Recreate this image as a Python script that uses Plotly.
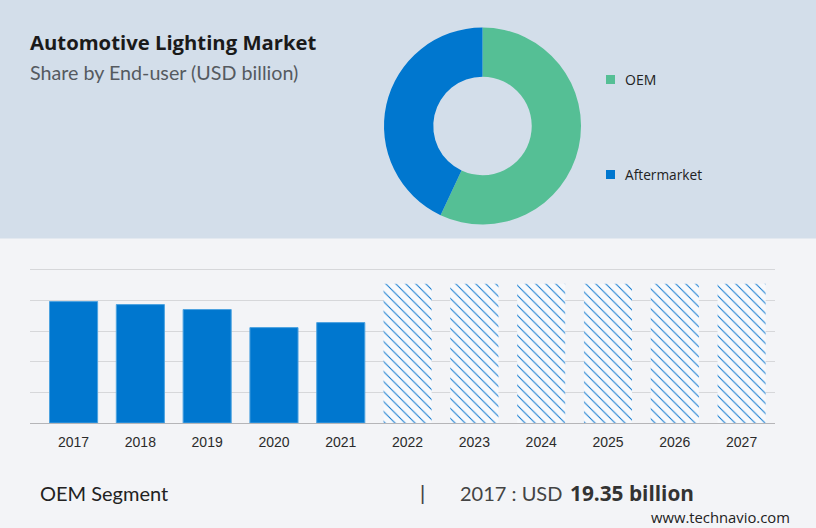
import plotly.graph_objects as go

W, H = 816, 528
years = ["2017","2018","2019","2020","2021","2022","2023","2024","2025","2026","2027"]
actual_values = [19.35, 18.87, 18.08, 15.2, 16.0, None, None, None, None, None, None]
forecast_values = [None, None, None, None, None, 22.2, 22.2, 22.2, 22.2, 22.2, 22.2]
segments = ["OEM", "Aftermarket"]
shares = [57, 43]
seg_colors = ["#55bf95", "#0077cf"]

def px(x): return x / W
def py(y): return 1 - y / H

fig = go.Figure()
fig.add_trace(go.Pie(labels=segments, values=shares, hole=0.5, sort=False, direction="clockwise",
    rotation=0, marker=dict(colors=seg_colors, line=dict(width=0)), textinfo="none", hoverinfo="skip",
    showlegend=False, domain=dict(x=[px(384), px(581)], y=[py(224.5), py(27.5)])))
fig.add_trace(go.Bar(x=years, y=actual_values, marker=dict(color="#0077cf", line=dict(color="#4da3e0", width=1)), showlegend=False))
fig.add_trace(go.Bar(x=years, y=forecast_values, showlegend=False,
    marker=dict(color="#f7f9fc", line=dict(width=0),
        pattern=dict(shape="\\", fgcolor="#0070cc", bgcolor="#f7f9fc", size=7.0711, solidity=0.13, fillmode="replace"))))

def txt(x, y, s, size, color, family, anchor="left", bold=False):
    fig.add_annotation(xref="paper", yref="paper", x=px(x), y=py(y), text=f"<b>{s}</b>" if bold else s,
        showarrow=False, xanchor=anchor, yanchor="middle", font=dict(size=size, color=color, family=family))

txt(28, 42.5, "Automotive Lighting Market", 20.3, "#1a1a1a", "Open Sans", bold=True)
txt(28, 73, "Share by End-user (USD billion)", 19.7, "#555a60", "Lato")
txt(623, 79, "OEM", 14, "#222222", "Open Sans")
txt(623, 174, "Aftermarket", 13.7, "#222222", "Open Sans")
txt(38, 493, "OEM Segment", 20, "#222222", "Lato")
txt(458, 493, "2017 : USD", 20, "#444444", "Lato")
txt(568, 493, "19.35 billion", 20.8, "#333333", "Open Sans", bold=True)
txt(792, 517, "www.technavio.com", 14.8, "#222222", "Open Sans", anchor="right")
txt(422.5, 493, "|", 20, "#444444", "Liberation Sans", anchor="center")

shapes = [
    dict(type="rect", xref="paper", yref="paper", x0=0, x1=1, y0=py(238.5), y1=1, fillcolor="#d3deea", line_width=0, layer="below"),
]
for yy, c in ((79.5, seg_colors[0]), (174.5, seg_colors[1])):
    shapes.append(dict(type="rect", xref="paper", yref="paper", x0=px(606), x1=px(615), y0=py(yy+4.5), y1=py(yy-4.5), fillcolor=c, line_width=0))

fig.update_layout(
    width=W, height=H, margin=dict(l=0, r=0, t=0, b=0), autosize=False,
    paper_bgcolor="#f3f4f7", plot_bgcolor="rgba(0,0,0,0)",
    barmode="overlay", bargap=0.28, shapes=shapes,
    xaxis=dict(domain=[px(30), px(775)], type="category", range=[-0.652, 10.50], showgrid=False, showline=True, linecolor="#b5b5b8", linewidth=1,
        ticks="", tickfont=dict(size=14, color="#2b2b2b", family="Liberation Sans"), ticklabelstandoff=6),
    yaxis=dict(domain=[py(423), py(268)], range=[0, 24.7], tick0=0, dtick=4.88, showticklabels=False, gridcolor="#d6d7da", gridwidth=1, zeroline=False),
)
fig.write_html("out.html", config=dict(displayModeBar=False), post_script="document.body.style.margin='0';document.documentElement.style.overflow='hidden';")
